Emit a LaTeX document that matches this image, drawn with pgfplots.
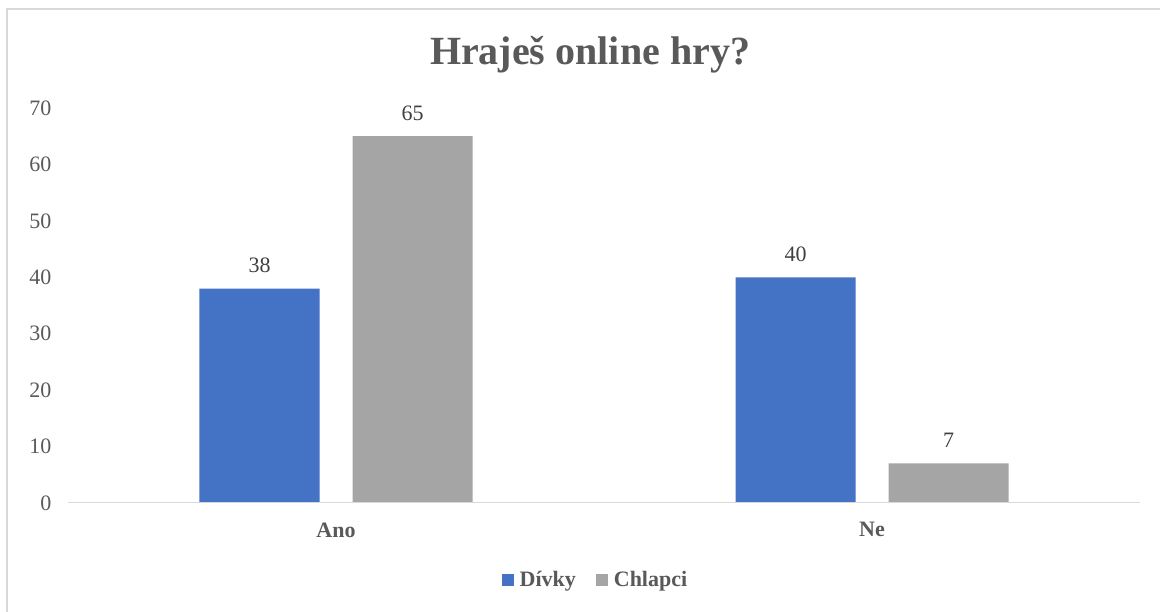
\documentclass[border=0pt]{standalone}
\usepackage{pgfplots}
\pgfplotsset{compat=1.18}
\usepackage{fontspec}
\setmainfont{Liberation Serif}
\definecolor{blueb}{HTML}{4472C4}
\definecolor{grayb}{HTML}{A5A5A5}
\definecolor{txt}{HTML}{595959}
\definecolor{lbl}{HTML}{404040}
\definecolor{framec}{HTML}{D9D9D9}

\begin{document}
\begin{tikzpicture}[x=1pt,y=1pt]
\path[use as bounding box] (0,0) rectangle (1160,612);
\draw[framec, line width=1.5pt] (7,0) -- (7,603) -- (1160,603);
\node[font=\fontsize{40}{48}\selectfont\bfseries, text=txt] at (590,557) {Hraješ online hry?};
\begin{axis}[
  at={(68pt,109pt)}, anchor=south west, scale only axis,
  width=1072pt, height=395pt,
  ybar=33pt, bar width=120pt,
  xmin=-0.5, xmax=1.5, ymin=0, ymax=70,
  xtick=data, xticklabels={Ano,Ne},
  ytick={0,10,...,70},
  axis line style={draw=none},
  major tick length=0pt,
  tick label style={font=\fontsize{22}{26}\selectfont, text=txt},
  yticklabel style={xshift=-13pt, /pgf/number format/assume math mode=true},
  xticklabel style={font=\fontsize{22}{26}\selectfont\bfseries, yshift=-16pt},
  nodes near coords,
  nodes near coords style={font=\fontsize{22}{26}\selectfont, text=lbl, yshift=12pt, /pgf/number format/assume math mode=true},
  legend image code/.code={\fill[#1] (0pt,-6pt) rectangle (12pt,6pt);},
  legend style={draw=none, at={(0.492,-0.195)}, anchor=center,
    legend columns=-1, font=\fontsize{22}{26}\selectfont\bfseries, text=txt,
    /tikz/every even column/.append style={column sep=18pt},
    /tikz/every odd column/.append style={column sep=4pt}},
]
\addplot[fill=blueb, draw=none] coordinates {(0,38) (1,40)};
\addplot[fill=grayb, draw=none] coordinates {(0,65) (1,7)};
\legend{Dívky, Chlapci}
\draw[framec, line width=1.5pt] (axis cs:-0.5,0) -- (axis cs:1.5,0);
\end{axis}
\end{tikzpicture}
\end{document}
